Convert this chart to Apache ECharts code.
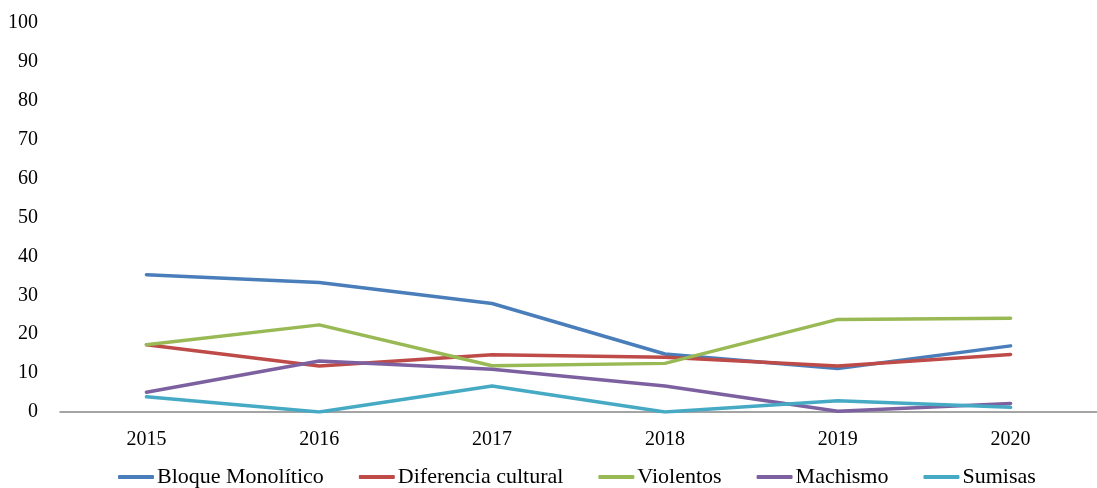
<!DOCTYPE html>
<html>
<head>
<meta charset="utf-8">
<script src="https://cdn.jsdelivr.net/npm/echarts@6/dist/echarts.min.js"></script>
<style>html,body{margin:0;padding:0;background:#fff}#c{width:1097px;height:488px}</style>
</head>
<body>
<div id="c"></div>
<script>
const years = ['2015','2016','2017','2018','2019','2020'];
const bloqueMonolitico = [35.3, 33.3, 27.9, 14.9, 11.2, 17.0];
const diferenciaCultural = [17.3, 11.8, 14.7, 14.1, 11.8, 14.8];
const violentos = [17.3, 22.4, 11.9, 12.5, 23.8, 24.1];
const machismo = [5.1, 13.1, 11.0, 6.7, 0.2, 2.2];
const sumisas = [3.9, 0.0, 6.7, 0.0, 2.9, 1.2];
const seriesNames = ['Bloque Monolítico','Diferencia cultural','Violentos','Machismo','Sumisas'];
const seriesData = [bloqueMonolitico, diferenciaCultural, violentos, machismo, sumisas];
const colors = ['#4A7EBB','#BE4B48','#98B954','#7D60A0','#46AAC5'];

const chart = echarts.init(document.getElementById('c'));
chart.setOption({
  animation: false,
  color: colors,
  textStyle: { fontFamily: 'Liberation Serif' },
  grid: { left: 60, top: 23, width: 1052, height: 389, containLabel: false },
  legend: {
    left: 113, top: 461,
    itemWidth: 36, itemHeight: 4, itemGap: 35,
    icon: 'roundRect',
    textStyle: { fontFamily: 'Liberation Serif', fontSize: 22, color: '#000', padding: [0,0,0,-2] },
    data: seriesNames
  },
  xAxis: {
    type: 'category', data: years, boundaryGap: true,
    axisLine: { lineStyle: { color: '#868686', width: 1.5 } },
    axisTick: { show: false },
    axisLabel: { fontFamily: 'Liberation Serif', fontSize: 20, color: '#000', margin: 18 }
  },
  yAxis: {
    type: 'value', min: 0, max: 100, interval: 10,
    axisLine: { show: false }, axisTick: { show: false },
    splitLine: { show: false },
    axisLabel: { fontFamily: 'Liberation Serif', fontSize: 20, color: '#000', margin: 22 }
  },
  series: seriesNames.map((n, i) => ({
    name: n, type: 'line', data: seriesData[i],
    showSymbol: false, symbol: 'none',
    lineStyle: { width: 3.5, color: colors[i], cap: 'round', join: 'round' },
    itemStyle: { color: colors[i] }
  }))
});
</script>
</body>
</html>
